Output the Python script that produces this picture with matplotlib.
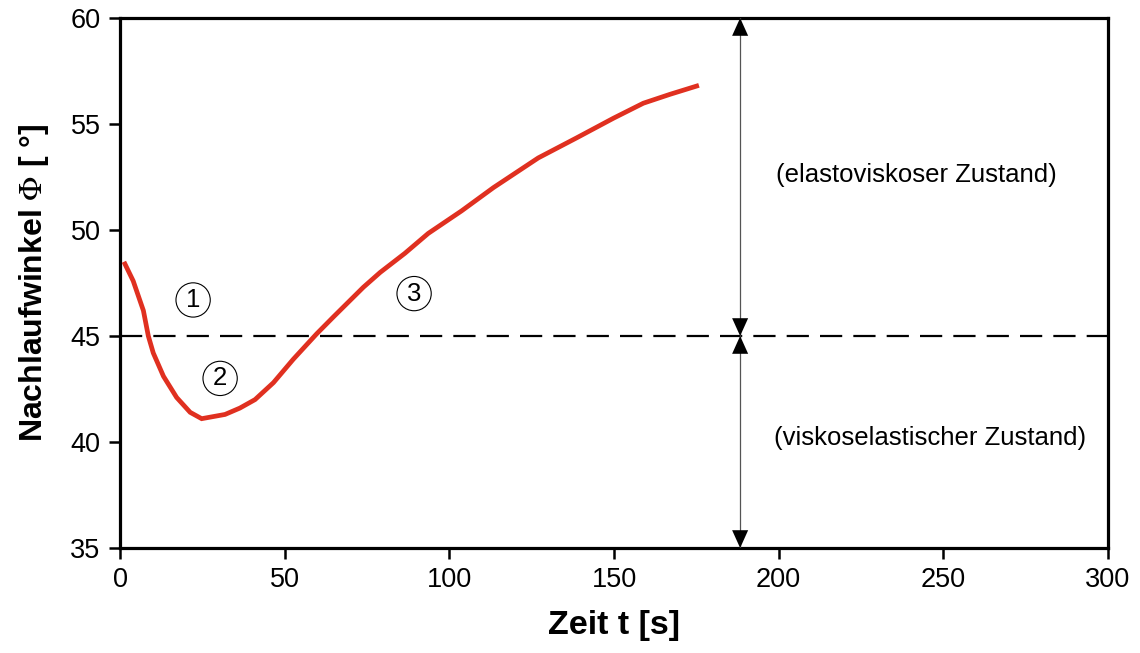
import matplotlib
matplotlib.use("Agg")
import matplotlib.pyplot as plt

plt.rcParams['font.family'] = ['Liberation Sans', 'DejaVu Sans']
plt.rcParams['mathtext.fontset'] = 'stix'

# data
zeit = [1.5, 4.0, 7.1, 8.6, 10.1, 13.2, 17.2, 21.3, 24.8, 31.9, 36.4, 41.0, 46.6,
        52.6, 59.7, 64.8, 73.9, 79.0, 86.5, 93.6, 103.7, 113.4, 127.0, 138.7,
        149.8, 158.9, 167.0, 175.1]
winkel = [48.4, 47.6, 46.2, 45.0, 44.2, 43.1, 42.1, 41.4, 41.1, 41.3, 41.6, 42.0, 42.8,
          43.9, 45.1, 45.9, 47.3, 48.0, 48.9, 49.84, 50.9, 52.0, 53.4, 54.35,
          55.27, 55.98, 56.4, 56.79]
grenze = 45
pfeil_x = 188.3
labels_num = ['1', '2', '3']
labels_pos = [(22.2, 46.7), (30.4, 43.0), (89.3, 47.0)]
zustand_oben = '(elastoviskoser Zustand)'
zustand_unten = '(viskoselastischer Zustand)'
x_ticks = [0, 50, 100, 150, 200, 250, 300]
y_ticks = [35, 40, 45, 50, 55, 60]

fig = plt.figure(figsize=(11.4, 6.53), dpi=100)
ax = fig.add_axes([120/1140, 1 - 548/653, (1108-120)/1140, (548-18)/653])

ax.plot(zeit, winkel, color='#e03020', lw=3.4, solid_joinstyle='miter', zorder=3)
ax.axhline(grenze, color='black', lw=1.6, dashes=(10, 5), zorder=2)

for lo, hi in [(grenze, 60), (grenze, 35)]:
    ax.plot([pfeil_x, pfeil_x], [lo, hi], color='#555555', lw=0.9, zorder=3)
    ax.annotate('', xy=(pfeil_x, hi), xytext=(pfeil_x, lo),
                arrowprops=dict(arrowstyle='<|-|>,head_length=0.8,head_width=0.36',
                                color='black', lw=0.01, shrinkA=0, shrinkB=0,
                                mutation_scale=16),
                zorder=4)

for t, (px, py) in zip(labels_num, labels_pos):
    ax.text(px, py, t, fontsize=18.5, ha='center', va='center',
            bbox=dict(boxstyle='circle,pad=0.2', fc='white', ec='black', lw=0.8))

ax.text(241.7, 52.6, zustand_oben, fontsize=18.5, ha='center', va='center')
ax.text(246, 40.2, zustand_unten, fontsize=18.5, ha='center', va='center')

ax.set_xlim(0, 300)
ax.set_ylim(35, 60)
ax.set_xticks(x_ticks)
ax.set_yticks(y_ticks)
ax.tick_params(direction='out', length=8, width=1.8, labelsize=19.5, pad=6)
for s in ax.spines.values():
    s.set_linewidth(2.3)

ax.set_xlabel('Zeit t [s]', fontsize=24.5, fontweight='bold', labelpad=12)
ax.set_ylabel(r'Nachlaufwinkel $\mathrm{\Phi}$ [ °]', fontsize=23, fontweight='bold', labelpad=14)

fig.savefig('out.png', dpi=100)
